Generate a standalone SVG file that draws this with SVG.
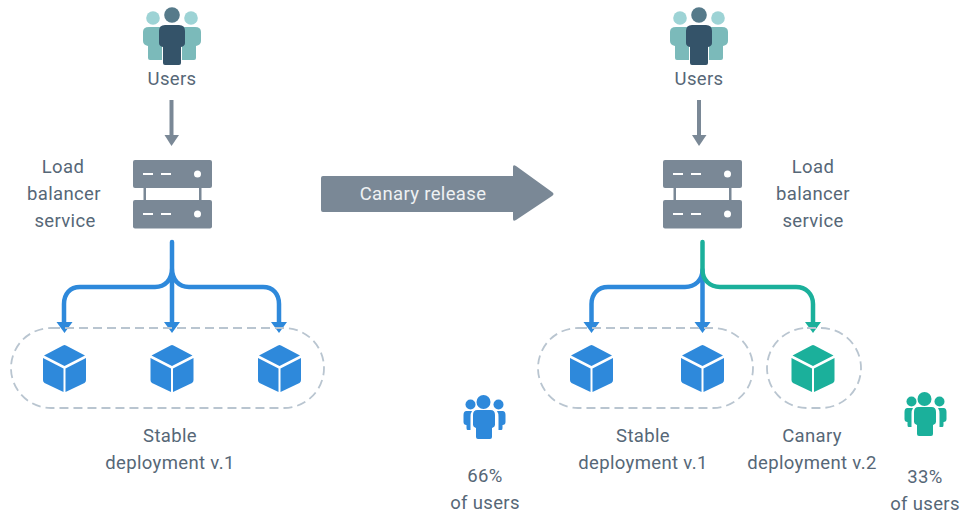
<svg xmlns="http://www.w3.org/2000/svg" width="964" height="514" viewBox="0 0 964 514">
<style>
text{font-family:"Roboto","Liberation Sans",sans-serif;font-size:18.500px;fill:#566777;text-anchor:middle;letter-spacing:.35px}
.srv{fill:#7a8896}
.wl{stroke:#fff;stroke-width:2;fill:none}
.dash{fill:none;stroke:#b9c5d0;stroke-width:1.800;stroke-dasharray:9 5}
.c{fill:none;stroke-width:4.500;stroke-linecap:round}
.blue{stroke:#2e89db}.teal{stroke:#1bb09b}
.fb{fill:#2e89db}.ft{fill:#1bb09b}
</style>
<defs>
<symbol id="srvI" overflow="visible">
<rect class="srv" x="0" y="0" width="79" height="28" rx="2"/>
<rect class="srv" x="0" y="40" width="79" height="28.500" rx="2"/>
<rect class="srv" x="10.500" y="27" width="2.500" height="14"/>
<rect class="srv" x="66" y="27" width="2.500" height="14"/>
<path class="wl" d="M10 14h10M28 14h10M10 54h10M28 54h10"/>
<circle cx="64.500" cy="14" r="3.500" fill="#fff"/><circle cx="64.500" cy="54" r="3.500" fill="#fff"/>
</symbol>
<symbol id="cube" overflow="visible">
<path d="M-1.500.5Q0-.3 1.500.5L20.500 10.500 0 21-20.500 10.500Z"/>
<path d="M-21.500 13-1 23.500V47L-20 38Q-21.500 37-21.500 35Z"/>
<path d="M21.500 13 1 23.500V47L20 38Q21.500 37 21.500 35Z"/>
</symbol>
<symbol id="usersI" overflow="visible">
<circle cx="-19" cy="18" r="6.800" fill="#9dd3d5"/><circle cx="19" cy="18" r="6.800" fill="#9dd3d5"/>
<path d="M-23 27H-10V60H-22Q-24 60-24 58V46Q-29 45-29 41V32Q-29 27-23 27ZM23 27H10V60H22Q24 60 24 58V46Q29 45 29 41V32Q29 27 23 27Z" fill="#7bbaba"/>
<circle cx="0" cy="15" r="7.800" fill="#567a8a"/>
<path d="M-7 25H7Q13 25 13 31V43Q13 46 9 47V63Q9 65 7 65H-7Q-9 65-9 63V47Q-13 46-13 43V31Q-13 25-7 25Z" fill="#345369" stroke="#345369" stroke-width="0"/>
</symbol>
<symbol id="usersS" overflow="visible">
<circle cx="-1" cy="6" r="7"/><circle cx="-14" cy="8.500" r="5"/><circle cx="14" cy="8.500" r="5"/>
<path d="M-18 15H-12.500Q-14 17-14 21V34H-17Q-18 34-18 32V29Q-21 29-21 26V19Q-21 15-18 15ZM18 15H12.500Q14 17 14 21V34H17Q18 34 18 32V29Q21 29 21 26V19Q21 15 18 15Z"/>
<path d="M-7 14H6Q10.500 14 10.500 19V29Q10.500 31 7.500 32V41Q7.500 43 5.500 43H-6.500Q-8.500 43-8.500 41V32Q-11.500 31-11.500 29V19Q-11.500 14-7 14Z"/>
</symbol>
</defs>

<g id="connectors">
<path d="M171.500 100V136" fill="none" stroke="#7a8896" stroke-width="4"/>
<path d="M164.500 135H179L171.500 146Z" fill="#7a8896"/>
<path d="M699 100V136" fill="none" stroke="#7a8896" stroke-width="4"/>
<path d="M692 135H706.500L699 146Z" fill="#7a8896"/>

<path class="c blue" d="M172 242V326M172 268C172 280 165 287 155 287H80C70 287 64 294 64 304V326M172 268C172 280 179 287 189 287H263C273 287 279 294 279 304V326"/>
<path class="fb" d="M56.500 322H72.500L64.500 333ZM164 322H180L172 333ZM271 322H287L279 333Z"/>

<path class="c blue" d="M702.500 272V326M702.500 270C702.500 280 695 287 685 287H608C598 287 591.500 294 591.500 304V326"/>
<path class="c teal" d="M702.500 242V270C702.500 280 710 287 720 287H796C806 287 813 294 813 304V326"/>
<path class="fb" d="M583.500 322H599.500L591.500 333ZM694.500 322H710.500L702.500 333Z"/>
<path class="ft" d="M805 322H821L813 333Z"/>
</g>

<g id="users-left"><use href="#usersI" x="172" y="0"/><text x="172" y="85">Users</text></g>
<g id="lb-left"><use href="#srvI" x="133" y="160"/>
<text x="63" y="173">Load</text><text x="64" y="200">balancer</text><text x="65" y="227">service</text></g>
<g id="stable-left">
<rect class="dash" x="11" y="328" width="313" height="80" rx="40"/>
<use href="#cube" x="64.500" y="345" class="fb"/><use href="#cube" x="172" y="345" class="fb"/><use href="#cube" x="279.500" y="345" class="fb"/>
<text x="170" y="442">Stable</text><text x="170" y="469">deployment v.1</text></g>

<g id="canary-arrow">
<path d="M323 176H513V167Q513 164 516 166L552 192Q555 194 552 196L516 220Q513 222 513 219V212H323Q321 212 321 210V178Q321 176 323 176Z" fill="#7a8896"/>
<text x="423" y="200" style="fill:#eef1f3">Canary release</text></g>

<g id="users-right"><use href="#usersI" x="699" y="0"/><text x="699" y="85">Users</text></g>
<g id="lb-right"><use href="#srvI" x="663" y="160"/>
<text x="813" y="173">Load</text><text x="813" y="200">balancer</text><text x="813" y="227">service</text></g>
<g id="stable-right">
<rect class="dash" x="538" y="328" width="215" height="80" rx="40"/>
<use href="#cube" x="591.500" y="345" class="fb"/><use href="#cube" x="702.500" y="345" class="fb"/>
<text x="643" y="442">Stable</text><text x="643" y="469">deployment v.1</text></g>
<g id="canary-right">
<rect class="dash" x="767" y="328" width="94" height="80" rx="40"/>
<use href="#cube" x="813" y="345" class="ft"/>
<text x="812" y="442">Canary</text><text x="812" y="469">deployment v.2</text></g>

<g id="share-66"><use href="#usersS" x="484.500" y="396" class="fb"/><text x="485" y="482">66%</text><text x="485" y="509">of users</text></g>
<g id="share-33"><use href="#usersS" x="925.500" y="393" class="ft"/><text x="925" y="483">33%</text><text x="925" y="510">of users</text></g>
</svg>
